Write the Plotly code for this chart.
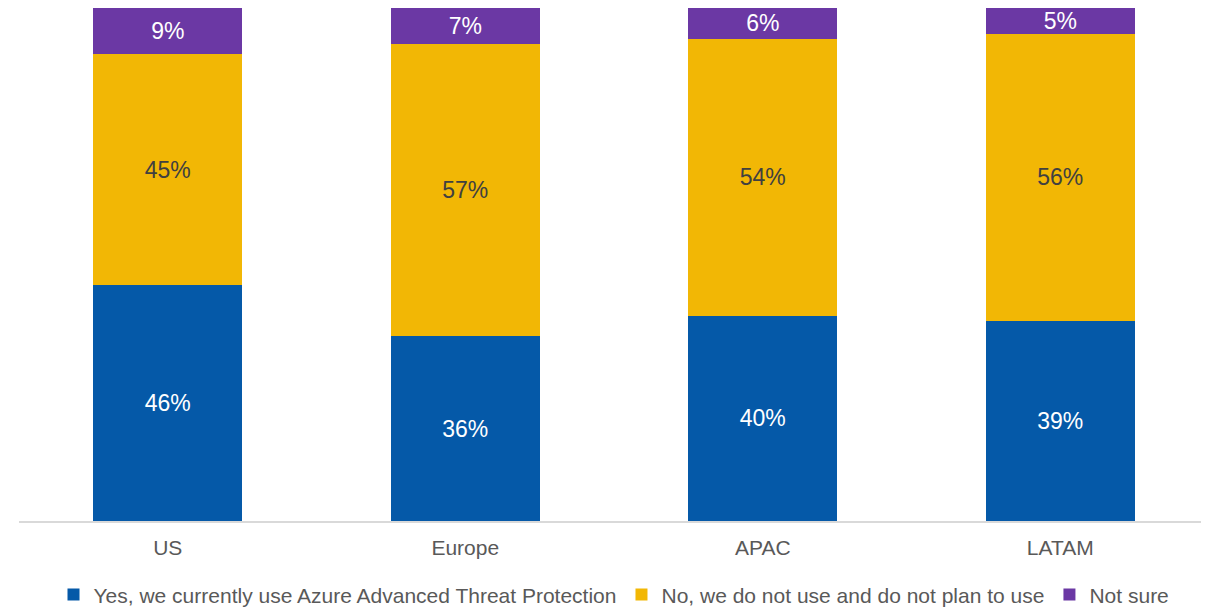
import plotly.graph_objects as go

categories = ["US", "Europe", "APAC", "LATAM"]
yes_use = [46, 36, 40, 39]
no_use = [45, 57, 54, 56]
not_sure = [9, 7, 6, 5]

series = [
    ("Yes, we currently use Azure Advanced Threat Protection", yes_use, "#0559A8", "white"),
    ("No, we do not use and do not plan to use", no_use, "#F2B705", "#404040"),
    ("Not sure", not_sure, "#6B38A4", "white"),
]

fig = go.Figure()
for name, vals, color, tcolor in series:
    fig.add_trace(go.Bar(
        x=categories, y=vals, name=name,
        marker=dict(color=color, line=dict(width=0)),
        text=[f"{v}%" for v in vals],
        textposition="inside", insidetextanchor="middle",
        textangle=0, constraintext="none",
        textfont=dict(family="Liberation Sans, Arial", size=23, color=tcolor),
        hoverinfo="skip",
    ))

# page body has an 8px margin, so figure is sized/offset to compensate
fig.update_layout(
    barmode="stack", bargap=0.5,
    width=1201, height=600,
    margin=dict(l=11, r=0, t=0, b=87, autoexpand=False),
    paper_bgcolor="white", plot_bgcolor="white",
    font=dict(family="Liberation Sans, Arial", color="#595959"),
    showlegend=True,
    legend=dict(orientation="h", x=0.5, xanchor="center", y=-0.144, yanchor="middle",
                font=dict(size=21, color="#595959"), itemwidth=30,
                traceorder="normal", itemclick=False),
    uniformtext=dict(mode=False),
)
fig.update_xaxes(showline=True, linecolor="#D9D9D9", linewidth=1.5, ticks="",
                 tickfont=dict(size=21, color="#595959"), showgrid=False,
                 ticklabelstandoff=7)
fig.update_yaxes(visible=False, range=[0, 100], showgrid=False)

fig.write_html("out.html")
